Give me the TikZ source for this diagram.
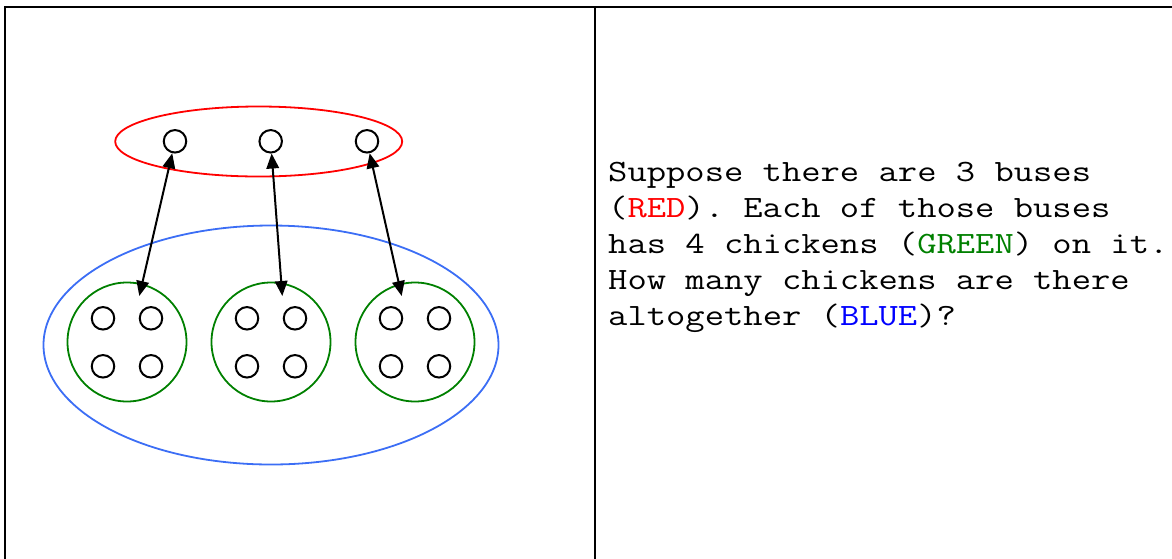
\documentclass[tikz,border=0pt]{standalone}
\usepackage{fontspec}
\setmonofont[FakeStretch=1.21]{Latin Modern Mono}
\usetikzlibrary{shapes.geometric,arrows.meta}
\definecolor{busred}{RGB}{255,0,0}
\definecolor{chickgreen}{RGB}{0,128,0}
\definecolor{allblue}{RGB}{60,110,245}
\definecolor{txtblue}{RGB}{0,0,255}
\tikzset{
  frameline/.style={line width=2.2pt,black},
  dot/.style={circle,draw=black,line width=2pt,minimum size=22.5pt,inner sep=0pt},
  bus/.style={ellipse,draw=busred,line width=1.8pt,minimum width=287pt,minimum height=70pt,inner sep=0pt},
  group/.style={circle,draw=chickgreen,line width=1.8pt,minimum size=119pt,inner sep=0pt},
  total/.style={ellipse,draw=allblue,line width=1.8pt,minimum width=455pt,minimum height=239pt,inner sep=0pt},
  link/.style={line width=2pt,{Triangle[length=15pt,width=12.5pt]}-{Triangle[length=15pt,width=12.5pt]}},
  txt/.style={anchor=base west,inner sep=0pt,font=\ttfamily\fontsize{31}{36}\selectfont}
}
\begin{document}
\begin{tikzpicture}[x=1pt,y=-1pt]
\useasboundingbox (0,0) rectangle (1172,558);
% frame
\draw[frameline,line join=miter] (5,560) -- (5,6.7) -- (1175,6.7);
\draw[frameline] (595,6.7) -- (595,560);
% ellipses
\node[total] (blue) at (271,345) {};
\node[bus] (red) at (258.7,141.5) {};
% top dots (buses)
\node[dot] (r1) at (175,141.3) {};
\node[dot] (r2) at (270.7,141.3) {};
\node[dot] (r3) at (367,141.3) {};
% green groups
\node[group] (g1) at (127,342) {};
\node[group] (g2) at (271,342) {};
\node[group] (g3) at (415,342) {};
% chickens
\foreach \g/\cx in {1/127,2/271,3/415}{
  \node[dot] (c\g a) at (\cx-24,318.3) {};
  \node[dot] (c\g b) at (\cx+24,318.3) {};
  \node[dot] (c\g c) at (\cx-24,366.3) {};
  \node[dot] (c\g d) at (\cx+24,366.3) {};
}
% arrow ends
\coordinate (e1) at (139.3,296);
\coordinate (e2) at (282.3,296);
\coordinate (e3) at (401.7,296);
\draw[link] (r1) -- (e1);
\draw[link] (r2) -- (e2);
\draw[link] (r3) -- (e3);
% text
\node[txt] (t1) at (608,181) {Suppose there are 3 buses};
\node[txt] (t2) at (608,217) {(\textcolor{busred}{RED}). Each of those buses};
\node[txt] (t3) at (608,253) {has 4 chickens (\textcolor{chickgreen}{GREEN}) on it.};
\node[txt] (t4) at (608,289) {How many chickens are there};
\node[txt] (t5) at (608,325) {altogether (\textcolor{txtblue}{BLUE})?};
\end{tikzpicture}
\end{document}
